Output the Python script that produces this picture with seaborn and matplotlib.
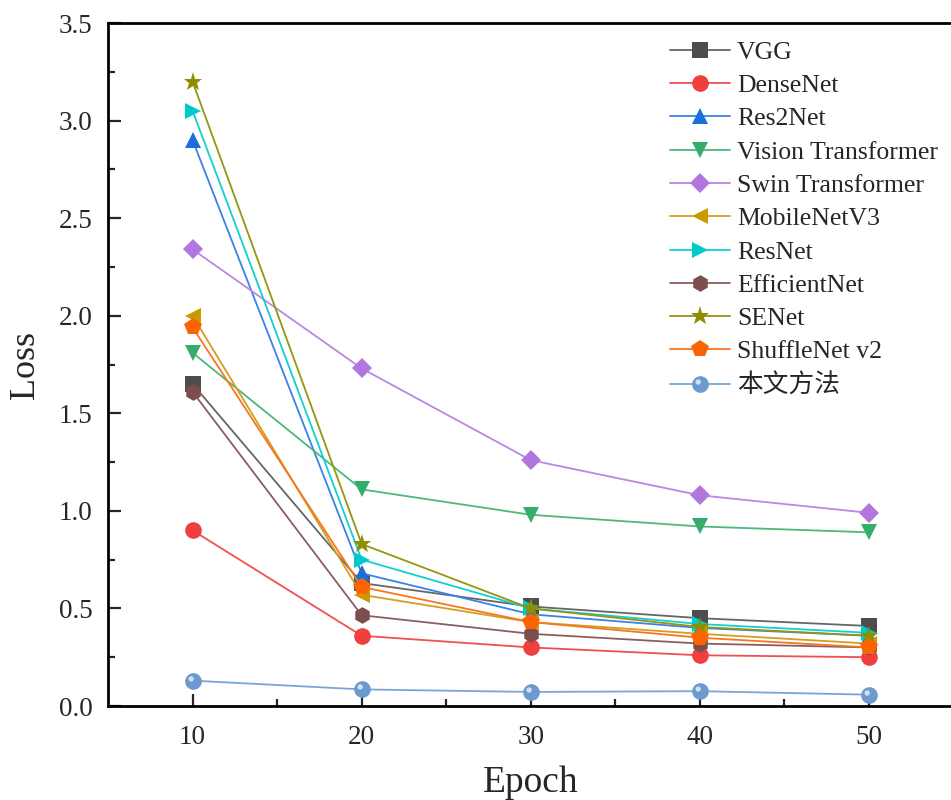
import numpy as np
import pandas as pd
import matplotlib
matplotlib.use("Agg")
import matplotlib.pyplot as plt
import seaborn as sns
from matplotlib.path import Path
from matplotlib.ticker import MultipleLocator, FixedLocator
from matplotlib.legend_handler import HandlerTuple

epochs = [10, 20, 30, 40, 50]
names = ["VGG", "DenseNet", "Res2Net", "Vision Transformer", "Swin Transformer",
         "MobileNetV3", "ResNet", "EfficientNet", "SENet", "ShuffleNet v2", "本文方法"]
vgg = [1.65, 0.63, 0.51, 0.45, 0.41]
densenet = [0.90, 0.36, 0.30, 0.26, 0.25]
res2net = [2.90, 0.68, 0.47, 0.40, 0.36]
vit = [1.81, 1.11, 0.98, 0.92, 0.89]
swin = [2.34, 1.73, 1.26, 1.08, 0.99]
mobilenet = [2.00, 0.57, 0.43, 0.37, 0.32]
resnet = [3.05, 0.75, 0.50, 0.42, 0.375]
efficientnet = [1.61, 0.465, 0.37, 0.32, 0.30]
senet = [3.20, 0.83, 0.50, 0.405, 0.36]
shufflenet = [1.94, 0.61, 0.43, 0.35, 0.30]
ours = [0.13, 0.085, 0.072, 0.076, 0.058]
series = [vgg, densenet, res2net, vit, swin, mobilenet, resnet, efficientnet,
          senet, shufflenet, ours]

colors = ["#4d4d4d", "#ef3f3f", "#1a6fdf", "#37ad6b", "#b177de", "#cc9900",
          "#00cbcc", "#7d4e4e", "#8e8e00", "#fb6501", "#6a9ace"]
line_colors = ["#666666", "#f05050", "#3b82e8", "#4cb87a", "#b988e2", "#d0a020",
               "#10d0d0", "#8a5e5e", "#959510", "#fb7420", "#7aa6d6"]
markers = ["s", "o", "^", "v", "D", "<", ">", "h", "*", "p", "o"]
msizes = [11, 12, 12, 12, 10, 12, 12, 12, 14, 13, 12]

df = pd.DataFrame({
    "Epoch": np.tile(epochs, len(names)),
    "Loss": np.concatenate(series),
    "Model": np.repeat(names, len(epochs)),
})

sns.set_style("ticks")
plt.rcParams["font.family"] = ["Liberation Serif", "Noto Sans CJK SC"]

fig = plt.figure(figsize=(9.51, 8.0), dpi=100)
ax = fig.add_axes([0.1136, 0.1175, 0.8890, 0.8537])

handles = []
for i, name in enumerate(names):
    sub = df[df["Model"] == name]
    sns.lineplot(data=sub, x="Epoch", y="Loss", ax=ax, color=line_colors[i],
                 marker=markers[i], markersize=msizes[i], markerfacecolor=colors[i],
                 markeredgewidth=0, linewidth=1.3, label=name, legend=False,
                 zorder=3 + i * 0.01)
    handles.append(ax.lines[-1])

# glossy highlight on the proposed method's sphere markers
circ = Path.circle(center=(-0.28, 0.3), radius=0.32)
verts = np.vstack([circ.vertices, [[1, 1], [-1, -1]]])
codes = list(circ.codes) + [Path.MOVETO, Path.MOVETO]
hl_path = Path(verts, codes)
sub = df[df["Model"] == "本文方法"]
sns.lineplot(data=sub, x="Epoch", y="Loss", ax=ax, linestyle="none",
             marker=hl_path, markersize=12, markerfacecolor="white", alpha=0.7,
             markeredgewidth=0, color="white", legend=False, zorder=4)
hl = ax.lines[-1]

ax.set_xlim(5, 55)
ax.set_ylim(0, 3.5)
ax.xaxis.set_major_locator(FixedLocator(epochs))
ax.xaxis.set_minor_locator(FixedLocator([15, 25, 35, 45]))
ax.yaxis.set_major_locator(MultipleLocator(0.5))
ax.yaxis.set_minor_locator(MultipleLocator(0.25))
ax.set_yticklabels([f"{v:.1f}" for v in ax.get_yticks()])
ax.tick_params(which="major", direction="in", length=9, width=1.6, labelsize=19.5)
ax.tick_params(axis="x", which="major", pad=14)
ax.tick_params(axis="y", which="major", pad=11)
ax.tick_params(which="minor", direction="in", length=5, width=1.6)
for s in ["left", "bottom", "top"]:
    ax.spines[s].set_linewidth(2.0)
    ax.spines[s].set_color("black")
ax.spines["right"].set_visible(False)

ax.set_xlabel("Epoch", fontsize=27, labelpad=11)
ax.set_ylabel("Loss", fontsize=26, labelpad=12)

leg_handles = handles[:-1] + [(handles[-1], hl)]
leg = fig.legend(leg_handles, names, loc="upper left",
                 bbox_to_anchor=(0.7045, 0.9488), frameon=False, fontsize=18.5,
                 handlelength=2.33, handletextpad=0.28, labelspacing=0.40,
                 borderpad=0, borderaxespad=0,
                 handler_map={tuple: HandlerTuple(ndivide=1, pad=0)})

fig.savefig("out.png", dpi=100)
